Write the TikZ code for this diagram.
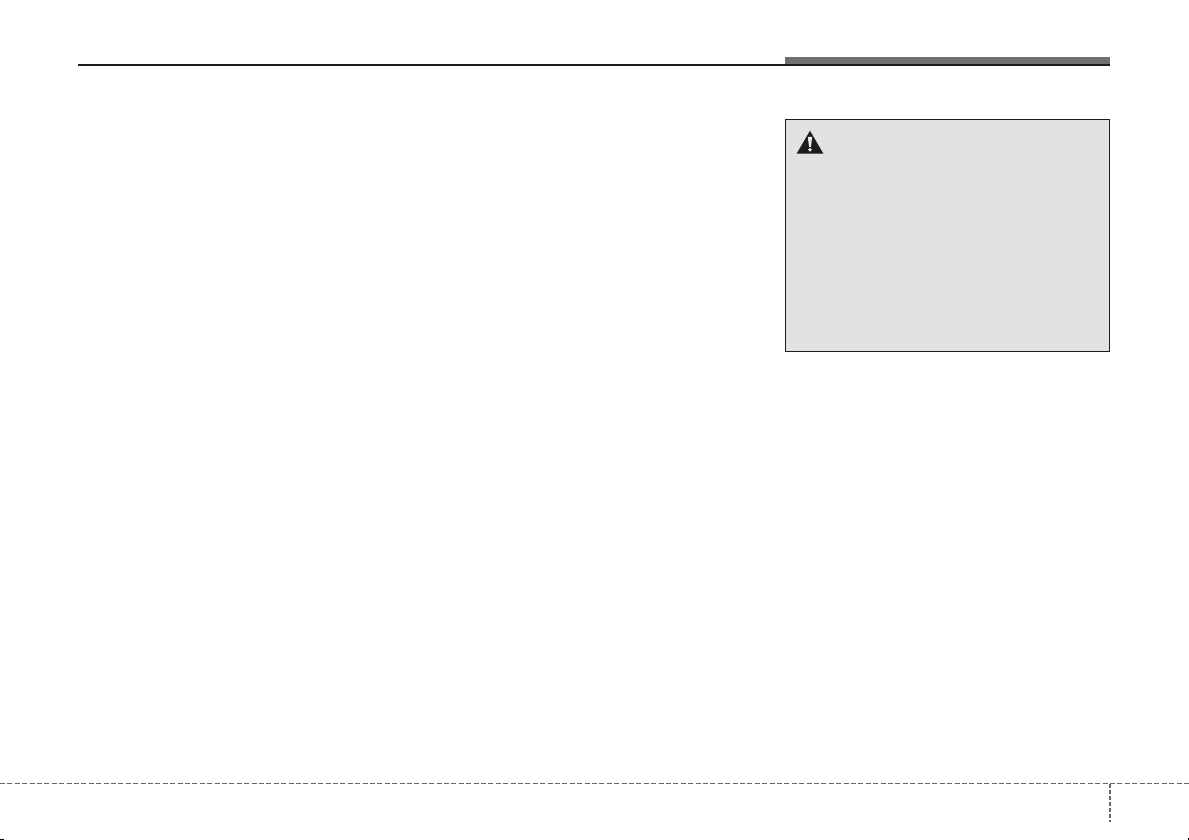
\documentclass[tikz,border=0pt]{standalone}
\definecolor{panelgrey}{HTML}{E1E2E3}
\definecolor{bargrey}{HTML}{707070}
\definecolor{dashgrey}{HTML}{666666}
\definecolor{inkblack}{HTML}{1C1C1C}
\begin{document}
\begin{tikzpicture}[x=1pt,y=-1pt,
  rulecol/.style={fill=inkblack,draw=none},
  dashcol/.style={draw=dashgrey,line cap=butt}]
\useasboundingbox (0,0) rectangle (1189,840);
\fill[white] (0,0) rectangle (1189,840);
% header
\fill[bargrey] (785,57) rectangle (1110,64.6);
\fill[rulecol] (78,64.4) rectangle (1110,66);
% warning box
\draw[fill=panelgrey,draw=inkblack,line width=1.3pt] (785.5,119.5) rectangle (1109.5,351.8);
% warning triangle
\fill[inkblack] (810,130.7) -- (823.3,153.6) -- (796.7,153.6) -- cycle;
\fill[white!92!black] (807.9,137) -- (812.1,137) -- (811,146.8) -- (809,146.8) -- cycle;
\fill[white!92!black] (810,149.8) circle (1.9);
% footer
\draw[dashcol,line width=1.2pt,dash pattern=on 5pt off 2.4pt] (0,783.5) -- (1189,783.5);
\draw[dashcol,line width=2.4pt,dash pattern=on 4pt off 2pt] (1110,784) -- (1110,822);
% corner marks
\fill[black] (0,839) rectangle (4,840);
\fill[black] (1188,837.5) rectangle (1189,840);
\end{tikzpicture}
\end{document}
